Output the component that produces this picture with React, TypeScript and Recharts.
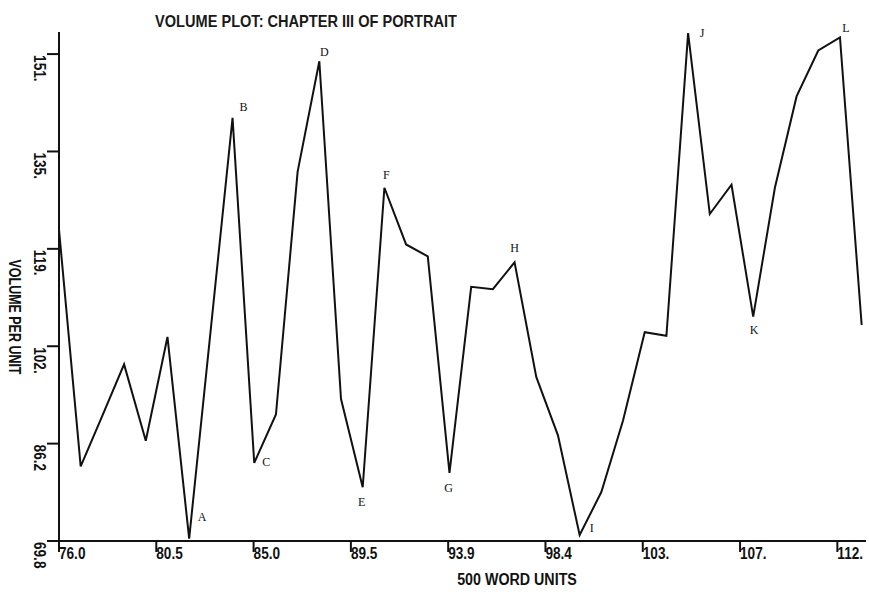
import React from "react";
import { LineChart, Line, XAxis, YAxis, LabelList } from "recharts";

// ---- data ----
const units = [
  76, 77, 78, 79, 80, 81, 82, 83, 84, 85, 86, 87, 88, 89, 90, 91, 92, 93, 94,
  95, 96, 97, 98, 99, 100, 101, 102, 103, 104, 105, 106, 107, 108, 109, 110,
  111, 112, 113,
];
const volume = [
  122.0, 82.3, 90.8, 99.4, 86.6, 104.0, 70.2, 105.4, 140.7, 82.9, 91.0, 131.7,
  150.2, 93.6, 78.8, 129.0, 119.5, 117.5, 81.2, 112.4, 112.0, 116.5, 97.3, 87.5,
  70.8, 78.0, 90.0, 104.8, 104.2, 154.9, 124.6, 129.5, 107.4, 129.0, 144.3,
  152.0, 154.2, 106.0,
];
const markedUnits = [82, 84, 85, 88, 90, 91, 94, 97, 100, 105, 108, 112];
const markLetters = ["A", "B", "C", "D", "E", "F", "G", "H", "I", "J", "K", "L"];

const xTickValues = [76, 80.485, 84.97, 89.455, 93.94, 98.425, 102.91, 107.395, 111.88];
const xTickLabels = ["76.0", "80.5", "85.0", "89.5", "93.9", "98.4", "103.", "107.", "112."];
const yTickValues = [69.8, 86.12, 102.44, 118.76, 135.08, 151.4];
const yTickLabels = ["69.8", "86.2", "102.", "119.", "135.", "151."];

const title = "VOLUME PLOT: CHAPTER III OF PORTRAIT";
const xTitle = "500 WORD UNITS";
const yTitle = "VOLUME PER UNIT";

// ---- styling / layout ----
const plotFont = "'Liberation Sans', Arial, sans-serif";
const ink = "#111";

const markOffsets: Record<string, [number, number]> = {
  A: [13, -22],
  B: [11, -11],
  C: [12, -1],
  D: [5, -9],
  E: [-1, 15],
  F: [2, -13],
  G: [-1, 15],
  H: [0, -14],
  I: [12, -7],
  J: [14, 0],
  K: [1, 13],
  L: [6, -9],
};

const data = units.map((u, i) => {
  const mi = markedUnits.indexOf(u);
  return { unit: u, volume: volume[i], mark: mi >= 0 ? markLetters[mi] : "" };
});

const XTick = (props: any) => {
  const { x, y, index } = props;
  return (
    <text
      x={0}
      y={0}
      transform={`translate(${x}, ${y + 5}) scale(0.8, 1)`}
      textAnchor="start"
      fontFamily={plotFont}
      fontWeight={700}
      fontSize={17}
      fill={ink}
    >
      {xTickLabels[index]}
    </text>
  );
};

const YTick = (props: any) => {
  const { y, index } = props;
  return (
    <text
      x={0}
      y={0}
      transform={`translate(34, ${y + 1}) rotate(90) scale(0.8, 1)`}
      textAnchor="start"
      fontFamily={plotFont}
      fontWeight={700}
      fontSize={17}
      fill={ink}
    >
      {yTickLabels[index]}
    </text>
  );
};

const YTitle = () => (
  <text
    x={0}
    y={0}
    transform={`translate(9, 317) rotate(90) scale(0.78, 1)`}
    textAnchor="middle"
    fontFamily={plotFont}
    fontWeight={700}
    fontSize={16}
    fill={ink}
  >
    {yTitle}
  </text>
);

const XTitle = () => (
  <text
    x={0}
    y={0}
    transform={`translate(517, 585) scale(0.84, 1)`}
    textAnchor="middle"
    fontFamily={plotFont}
    fontWeight={700}
    fontSize={17}
    fill={ink}
  >
    {xTitle}
  </text>
);

const MarkLabel = (props: any) => {
  const { x, y, value } = props;
  if (!value) return null;
  const off = markOffsets[value] || [0, 0];
  return (
    <text
      x={x + off[0]}
      y={y + off[1]}
      textAnchor="middle"
      dominantBaseline="central"
      fontFamily="'Liberation Serif', 'DejaVu Serif', serif"
      fontSize={12}
      fill={ink}
    >
      {value}
    </text>
  );
};

export default function App() {
  return (
    <div
      style={{
        position: "absolute",
        left: 0,
        top: 0,
        width: 869,
        height: 594,
        background: "#fff",
        overflow: "hidden",
      }}
    >
      <div
        style={{
          position: "absolute",
          left: 0,
          width: 612,
          top: 12,
          textAlign: "center",
          fontFamily: "'Liberation Sans', Arial, sans-serif",
          fontWeight: 700,
          fontSize: 16.5,
          lineHeight: "18px",
          color: "#1a1a1a",
          whiteSpace: "nowrap",
          transform: "scaleX(0.883)",
          transformOrigin: "306px 50%",
        }}
      >
        {title}
      </div>
      <LineChart
        width={869}
        height={594}
        data={data}
        margin={{ top: 32, right: 3, bottom: 0, left: 0 }}
      >
        <XAxis
          type="number"
          dataKey="unit"
          domain={[76, 113.2]}
          ticks={xTickValues}
          interval={0}
          height={53}
          tickSize={11}
          tick={<XTick />}
          axisLine={{ stroke: ink, strokeWidth: 2 }}
          tickLine={{ stroke: ink, strokeWidth: 2 }}
          label={<XTitle />}
          allowDataOverflow
        />
        <YAxis
          type="number"
          domain={[69.8, 155.1]}
          ticks={yTickValues}
          interval={0}
          width={59}
          tickSize={12}
          tick={<YTick />}
          axisLine={{ stroke: ink, strokeWidth: 2 }}
          tickLine={{ stroke: ink, strokeWidth: 2 }}
          label={<YTitle />}
          allowDataOverflow
        />
        <Line
          type="linear"
          dataKey="volume"
          stroke={ink}
          strokeWidth={2}
          dot={false}
          isAnimationActive={false}
        >
          <LabelList dataKey="mark" content={<MarkLabel />} />
        </Line>
      </LineChart>
    </div>
  );
}
